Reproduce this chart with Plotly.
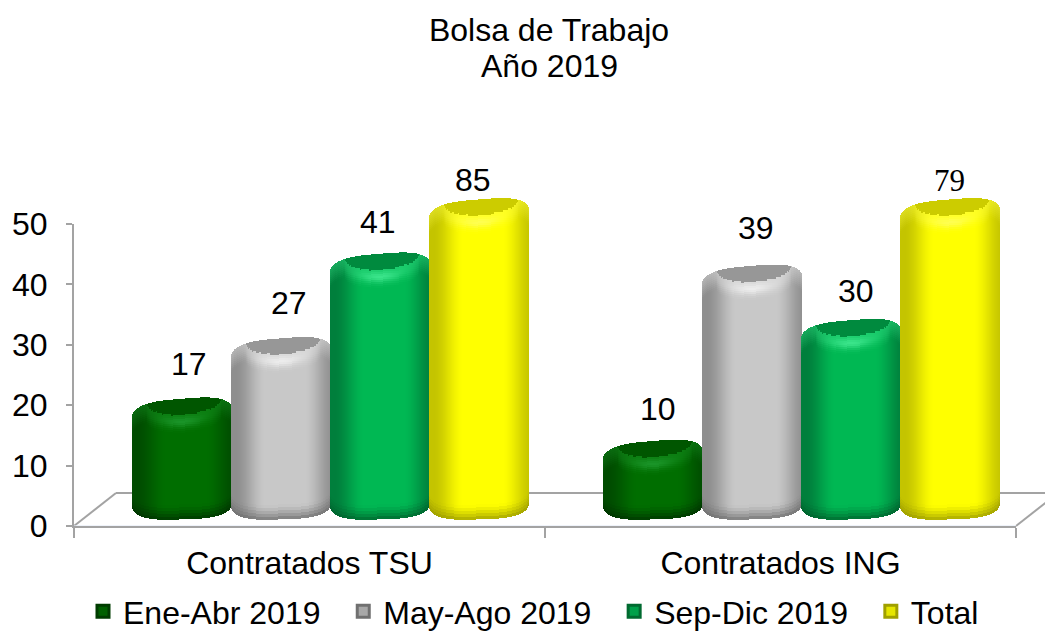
import numpy as np
import plotly.graph_objects as go

categories = ["Contratados TSU", "Contratados ING"]
series_names = ["Ene-Abr 2019", "May-Ago 2019", "Sep-Dic 2019", "Total"]
ene_abr = [17, 10]
may_ago = [27, 39]
sep_dic = [41, 30]
total = [85, 79]
y_ticks = [0, 10, 20, 30, 40, 50]
title_text = "Bolsa de Trabajo"
subtitle_text = "Año 2019"

series_values = [ene_abr, may_ago, sep_dic, total]

# (edge, middle, cap, highlight, bottom)
palette = [
    ("#004c00", "#006e00", "#005600", "#1a9428", "#003200"),
    ("#8e8e8e", "#c8c8c8", "#979797", "#ececec", "#6e6e6e"),
    ("#007f3c", "#00b853", "#008a3e", "#3ae48a", "#00602c"),
    ("#c4c400", "#ffff00", "#cccc00", "#ffff50", "#9a9a00"),
]
legend_colors = ["#006000", "#a8a8a8", "#00a04a", "#e6e600"]
legend_lines = ["#003c00", "#707070", "#006a30", "#a0a000"]
legend_pad = "\u00a0\u00a0"

W, H = 1045, 631
AX_L, AX_R, AX_B, AX_T = 74, 1016, 526, 224   # plot box in pixels
DX, DY = 21, 11                               # 3-D depth shift of the bars
PX_Y = (AX_B - AX_T) / 50
PX_X = (AX_R - AX_L) / 2
BAR_W = 100
BAR_STEP = 99
STRIP = 1
YMAX = 50
Y3_LO, Y3_HI = -5, 60     # room for the rounded ends of the cylinders
GRAY = "#a3a3a3"


def rgb(h):
    return np.array([int(h[i:i + 2], 16) for i in (1, 3, 5)], float)


def mix(a, b, t):
    return a + (b - a) * t


def css(c):
    return "rgb(%d,%d,%d)" % tuple(np.clip(np.round(c), 0, 255))


def fx(px):
    return px / W


def fy(px):
    return 1 - px / H


fig = go.Figure()

# the bars themselves, from the data, on the shifted depth axes
for s, (name, vals) in enumerate(zip(series_names, series_values)):
    fig.add_trace(go.Bar(
        x=[0, 1], y=vals, name=name + (legend_pad if s < 3 else ""), xaxis="x2", yaxis="y2",
        width=68 / PX_X, offset=((s - 1.5) * BAR_STEP - 34) / PX_X,
        marker=dict(color=legend_colors[s], line=dict(color=legend_lines[s], width=3)),
        hovertemplate="%{y}<extra>" + name + "</extra>",
    ))

# cylinder rendering: each bar is shaded in narrow vertical strips
R = BAR_W / 2
TILT = 4
H_TOP = 14
H_BOT = 14
BOTTOM_V = 10 / PX_Y     # bottom-ellipse centre, axis units above y2 = 0
for s, vals in enumerate(series_values):
    edge, mid, cap, hi, low = [rgb(c) for c in palette[s]]
    xs, bases, heights, colors = [], [], [], []
    for c, raw in enumerate(vals):
        v = min(raw, YMAX)
        for off in np.arange(-R + STRIP / 2, R, STRIP):
            u = off / R
            a = max(0.0, 1 - abs(u) ** 3.4)
            top = v + (TILT * u + H_TOP * a ** 0.5) / PX_Y          # units
            bot = BOTTOM_V + (1.5 * u - H_BOT * a ** 0.5) / PX_Y
            t = np.clip((1 - abs(u - 0.08)) / 0.62, 0, 1)
            side = mix(edge, mid, t * t * (3 - 2 * t))
            lens = 16 * np.sqrt(max(0.0, 1 - ((u - 0.04) / 0.74) ** 2))
            xc = c + (off + (s - 1.5) * BAR_STEP) / PX_X

            def seg(y0, y1, col):
                xs.append(xc)
                bases.append(y0)
                heights.append(y1 - y0)
                colors.append(css(col))

            # rows near the top, counted downward in pixels
            rows = 17
            step = 2
            y = top
            for k in range(rows):
                d = k * step + step / 2
                if d < lens:
                    col = cap
                else:
                    e = d - lens
                    w = np.exp(-((e - 7) / 5) ** 2) * np.exp(-(u / 0.42) ** 2)
                    col = mix(mix(side, hi, 0.42 * max(0, 1 - e / 18)), hi, w)
                y2 = y - step / PX_Y
                if y2 < bot:
                    y2 = bot
                if y > bot:
                    seg(y2, y, col)
                y = y2
            # rows near the bottom
            nb = 5
            stepb = 3
            ybt = bot + nb * stepb / PX_Y
            if y > ybt:
                seg(ybt, y, side)
                y = ybt
            yy = bot
            for k in range(nb):
                y2 = yy + stepb / PX_Y
                if yy < y:
                    f = (1 - (k + 0.5) / nb) ** 1.4
                    seg(yy, min(y2, y), mix(side, low, 0.85 * f))
                yy = y2
    fig.add_trace(go.Bar(
        x=xs, y=heights, base=bases, width=STRIP / PX_X, xaxis="x2", yaxis="y3",
        marker=dict(color=colors, line=dict(width=0)),
        showlegend=False, hoverinfo="skip",
    ))

# value labels
label_dx = [[6.5, 4.5], [7.5, 3.5], [-2.5, 4.5], [-6.5, -0.5]]
label_dy = [[59, 57], [60, 62], [56, 54], [44, 44]]
annotations = []
for s, vals in enumerate(series_values):
    for c, raw in enumerate(vals):
        serif = raw == 79
        annotations.append(dict(
            text=str(raw), xref="x2", yref="y",
            x=c + (s - 1.5) * BAR_STEP / PX_X, y=min(raw, YMAX),
            xshift=label_dx[s][c], yshift=label_dy[s][c],
            showarrow=False, xanchor="center", yanchor="middle",
            font=dict(size=31 if serif else 32, color="black",
                      family="Liberation Serif" if serif else "Liberation Sans"),
        ))
annotations.append(dict(text=subtitle_text, xref="paper", yref="paper", x=549 / W, y=fy(66),
                        showarrow=False, xanchor="center", yanchor="middle",
                        font=dict(size=32, color="black", family="Liberation Sans")))

# floor of the 3-D box
floor = [(AX_L, AX_B, AX_L + 42, AX_B - 33),
         (AX_L + 42, AX_B - 33, AX_R + 42, AX_B - 33),
         (AX_R, AX_B, AX_R + 42, AX_B - 33)]
shapes = [dict(type="line", xref="paper", yref="paper", layer="below",
               x0=fx(a), y0=fy(b), x1=fx(c), y1=fy(d),
               line=dict(color=GRAY, width=2)) for a, b, c, d in floor]

axis_font = dict(size=32, color="black", family="Liberation Sans")
fig.update_layout(
    width=W, height=H, margin=dict(l=0, r=0, t=0, b=0, autoexpand=False),
    paper_bgcolor="white", plot_bgcolor="rgba(0,0,0,0)",
    barmode="overlay", bargap=0,
    font=dict(family="Liberation Sans", color="black", size=32),
    title=dict(text=title_text, x=549 / W, xanchor="center",
               y=fy(30), yanchor="middle", font=dict(size=32, color="black")),
    xaxis=dict(domain=[fx(AX_L), fx(AX_R)], type="category", categoryorder="array",
               categoryarray=categories, tickmode="array", tickvals=categories,
               tickson="boundaries", ticks="outside", ticklen=10, tickwidth=2,
               tickcolor=GRAY, showline=True, linecolor=GRAY, linewidth=2,
               showgrid=False, zeroline=False, tickfont=axis_font, anchor="y",
               ticklabelstandoff=8, range=[-0.5, 1.5]),
    yaxis=dict(domain=[fy(AX_B), fy(AX_T)], range=[0, YMAX], tickmode="array",
               tickvals=y_ticks, ticks="outside", ticklen=6, tickwidth=2,
               tickcolor=GRAY, showline=True, linecolor=GRAY, linewidth=2,
               showgrid=False, zeroline=False, tickfont=axis_font, anchor="x",
               ticklabelstandoff=12),
    xaxis2=dict(domain=[fx(AX_L + DX), fx(AX_R + DX)], range=[-0.5, 1.5], visible=False,
                anchor="y2", fixedrange=True),
    yaxis2=dict(domain=[fy(AX_B - DY), fy(AX_T - DY)], range=[0, YMAX], visible=False,
                anchor="x2", fixedrange=True),
    yaxis3=dict(domain=[fy(AX_B - DY - Y3_LO * PX_Y), fy(AX_B - DY - Y3_HI * PX_Y)],
                range=[Y3_LO, Y3_HI], visible=False, anchor="x2", fixedrange=True),
    legend=dict(orientation="h", x=83 / W, xanchor="left", y=fy(584), yanchor="top",
                font=dict(size=32, color="black", family="Liberation Sans"),
                bgcolor="rgba(0,0,0,0)", traceorder="normal"),
    annotations=annotations, shapes=shapes,
)
# empty trace so the category axis is drawn with its labels
fig.add_trace(go.Bar(x=categories, y=[0, 0], xaxis="x", yaxis="y", showlegend=False,
                     hoverinfo="skip", marker=dict(color="rgba(0,0,0,0)")))

fig.write_html("out.html", post_script="document.body.style.margin='0';",
               config=dict(displayModeBar=False))
